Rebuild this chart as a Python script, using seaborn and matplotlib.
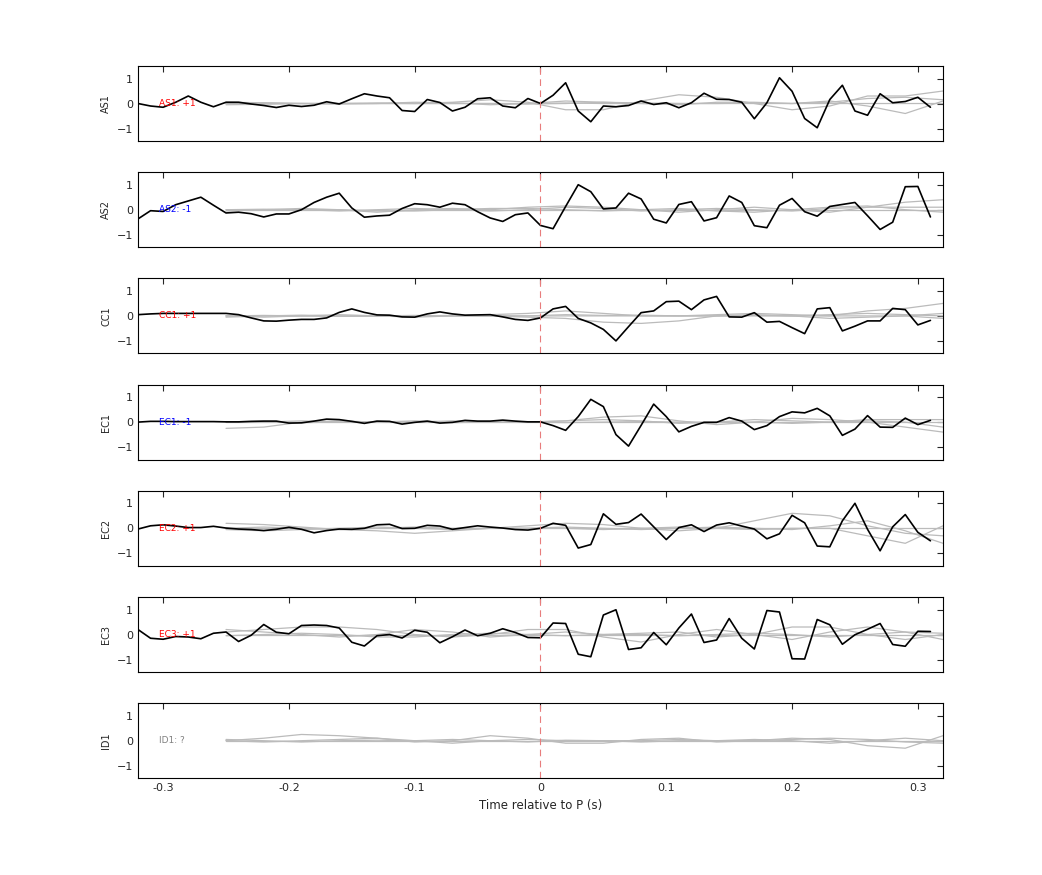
import numpy as np
import matplotlib
matplotlib.use("Agg")
import matplotlib.pyplot as plt
import pandas as pd
import seaborn as sns

# time axis of the black traces (10 ms steps)
t = np.round(np.arange(-0.32, 0.315, 0.01), 2)
# knots of the gray traces
tg = np.round(np.arange(-0.25, 0.321, 0.03), 2)

channels = ['AS1', 'AS2', 'CC1', 'EC1', 'EC2', 'EC3', 'ID1']
labels = ['AS1: +1', 'AS2: -1', 'CC1: +1', 'EC1: -1', 'EC2: +1', 'EC3: +1', 'ID1: ?']
label_colors = ['red', 'blue', 'red', 'blue', 'red', 'red', 'gray']

as1 = [0, -0.1, -0.15, 0.05, 0.3, 0.05, -0.13, 0.05, 0.05, -0.02, -0.08, -0.16, -0.07, -0.12, -0.07, 0.07,
       -0.02, 0.19, 0.39, 0.3, 0.23, -0.28, -0.32, 0.16, 0.04, -0.3, -0.15, 0.19, 0.23, -0.1, -0.17, 0.2,
       0, 0.33, 0.83, -0.3, -0.73, -0.1, -0.13, -0.08, 0.1, -0.04, 0.03, -0.17, 0.03, 0.41, 0.17, 0.16,
       0.05, -0.61, 0.03, 1.03, 0.49, -0.6, -0.97, 0.16, 0.73, -0.3, -0.47, 0.39, 0.03, 0.08, 0.25, -0.15]
as2 = [-0.37, -0.04, -0.07, 0.2, 0.35, 0.5, 0.18, -0.13, -0.1, -0.16, -0.29, -0.17, -0.17, 0, 0.29, 0.5,
       0.66, 0.07, -0.3, -0.25, -0.22, 0.05, 0.24, 0.2, 0.1, 0.26, 0.2, -0.08, -0.33, -0.47, -0.2, -0.13,
       -0.63, -0.76, 0.13, 1.0, 0.72, 0.03, 0.07, 0.66, 0.43, -0.38, -0.53, 0.21, 0.32, -0.45, -0.32, 0.55,
       0.29, -0.64, -0.72, 0.18, 0.45, -0.08, -0.26, 0.13, 0.21, 0.29, -0.24, -0.79, -0.5, 0.92, 0.93, -0.29]
cc1 = [0.05, 0.08, 0.1, 0.1, 0.1, 0.1, 0.1, 0.1, 0.05, -0.08, -0.2, -0.21, -0.17, -0.14, -0.14, -0.08,
       0.14, 0.28, 0.14, 0.04, 0.03, -0.04, -0.05, 0.08, 0.16, 0.08, 0.03, 0.04, 0.05, -0.04, -0.14, -0.18,
       -0.08, 0.28, 0.38, -0.1, -0.28, -0.54, -1.0, -0.43, 0.13, 0.2, 0.57, 0.59, 0.25, 0.64, 0.78, -0.04,
       -0.05, 0.13, -0.25, -0.22, -0.47, -0.71, 0.28, 0.33, -0.6, -0.41, -0.2, -0.2, 0.3, 0.25, -0.36, -0.18]
ec1 = [0, 0.03, 0.03, 0.02, 0.02, 0.02, 0.02, 0.01, 0.01, 0.03, 0.04, 0.04, -0.04, -0.03, 0.04, 0.12,
       0.1, 0.03, -0.05, 0.04, 0.03, -0.08, -0.01, 0.04, -0.04, -0.01, 0.07, 0.04, 0.04, 0.08, 0.04, 0.01,
       0.01, -0.14, -0.33, 0.22, 0.91, 0.62, -0.5, -0.96, -0.13, 0.72, 0.22, -0.39, -0.17, -0.01, -0.01, 0.18,
       0.04, -0.3, -0.14, 0.22, 0.41, 0.37, 0.55, 0.25, -0.53, -0.28, 0.26, -0.2, -0.21, 0.16, -0.1, 0.07]
ec2 = [-0.03, 0.1, 0.14, 0.09, 0.03, 0.03, 0.08, 0.01, -0.03, -0.05, -0.09, -0.04, 0.04, -0.04, -0.18, -0.09,
       -0.03, -0.04, 0, 0.14, 0.16, -0.01, 0, 0.12, 0.09, -0.04, 0.03, 0.1, 0.05, 0.01, -0.05, -0.07,
       0, 0.2, 0.12, -0.79, -0.65, 0.58, 0.16, 0.23, 0.57, 0.06, -0.45, 0.03, 0.14, -0.13, 0.13, 0.22,
       0.09, -0.03, -0.42, -0.22, 0.52, 0.22, -0.71, -0.74, 0.3, 1.0, -0.04, -0.9, 0.06, 0.55, -0.16, -0.5]
ec3 = [0.2, -0.15, -0.19, -0.08, -0.1, -0.17, 0.05, 0.1, -0.28, -0.03, 0.4, 0.09, 0.03, 0.36, 0.38, 0.36,
       0.26, -0.31, -0.46, -0.05, 0, -0.14, 0.17, 0.09, -0.33, -0.09, 0.18, -0.05, 0.05, 0.23, 0.08, -0.12,
       -0.13, 0.46, 0.44, -0.79, -0.89, 0.78, 0.99, -0.6, -0.53, 0.08, -0.41, 0.26, 0.82, -0.32, -0.22, 0.64,
       -0.15, -0.58, 0.96, 0.9, -0.97, -0.98, 0.6, 0.39, -0.39, -0.01, 0.21, 0.44, -0.4, -0.47, 0.13, 0.12]
black = [as1, as2, cc1, ec1, ec2, ec3, None]

# gray traces, values at the tg knots
gray = {
    'AS1': [[0, 0, 0, 0, 0, 0, 0.05, 0.15, 0.05, -0.25, -0.25, 0.1, 0.35, 0.25, 0, -0.25, -0.1, 0.3, 0.3, 0.5],
            [0, 0.02, 0, -0.02, 0, 0.05, 0.03, -0.05, 0, 0.1, 0.05, 0, -0.05, 0.05, 0.05, 0, 0.1, -0.1, -0.4, 0.1],
            [0.05, 0.03, 0, 0, 0.02, 0, 0, 0, 0, 0.02, 0, 0, 0, 0, 0, 0, 0.05, 0.2, 0.25, 0.15],
            [-0.05, -0.03, 0, 0, 0, 0, 0, 0, -0.02, 0, 0.05, 0.02, 0, 0, 0.02, 0, 0, 0, 0, 0]],
    'AS2': [[0, 0, 0.05, 0, -0.1, 0, 0.05, 0, 0.1, 0.15, 0.1, 0, -0.1, 0, 0.1, 0, -0.1, 0.1, 0.3, 0.4],
            [0, 0.02, 0, -0.05, 0, 0.05, 0, -0.05, 0, 0.1, 0.05, -0.05, 0, 0.05, 0, -0.05, 0.05, 0.1, 0.1, 0.1],
            [-0.05, 0, 0, 0, -0.05, -0.05, 0, 0.05, 0.05, 0, -0.05, 0, 0.05, -0.05, -0.1, 0, 0.1, 0.15, 0, -0.1],
            [0, 0, 0, 0, 0, 0, 0, 0, 0, 0, 0, 0, 0, 0, 0, 0, 0, 0, 0, 0]],
    'CC1': [[0, -0.05, 0, 0.05, 0, -0.05, 0, 0.05, 0.1, 0.2, 0.1, 0, 0, 0.05, 0.1, 0.05, 0, 0.2, 0.3, 0.5],
            [0, 0.02, 0, -0.02, 0, 0.02, 0, 0, -0.05, -0.1, -0.25, -0.3, -0.2, 0, 0.05, 0, -0.1, -0.05, 0, 0.1],
            [-0.05, 0, 0.03, 0, -0.02, 0, 0.02, 0, 0, 0.05, 0.02, 0.03, 0, 0, 0.02, 0, 0.05, 0.1, 0.05, 0],
            [0, 0, 0, 0, 0, 0, 0, 0, 0, 0, 0, 0, 0, 0, 0, 0, 0, 0, 0, -0.1]],
    'EC1': [[-0.25, -0.2, 0, 0.05, 0, 0, 0.05, 0, 0, 0.05, 0.2, 0.25, 0.05, -0.1, 0, 0.15, 0.1, 0, -0.2, -0.4],
            [0, 0, 0.05, 0, 0, 0.05, 0, 0, 0, 0.05, 0.1, 0.05, -0.05, 0, 0.1, 0.05, 0, 0.1, 0.1, 0.1],
            [0.02, 0, -0.02, 0, 0.02, 0, -0.02, 0, 0, -0.02, 0, 0.02, 0, 0, 0, -0.05, 0, 0.05, 0, -0.2],
            [0, 0, 0, 0, 0, 0, 0, 0, 0, 0, 0, 0, 0, 0, 0, 0, 0, 0, 0, 0]],
    'EC2': [[0.2, 0.15, 0.05, -0.05, -0.1, -0.2, -0.1, 0, 0.1, 0.2, 0.15, 0, -0.1, 0, 0.3, 0.6, 0.5, 0.1, -0.2, -0.3],
            [0, 0.05, 0, -0.05, 0, 0.05, 0, 0, 0, 0.05, 0, -0.05, 0, 0.05, 0, -0.05, 0.1, 0.3, -0.1, -0.6],
            [-0.05, -0.1, -0.05, 0, 0.05, 0, -0.05, 0, 0, 0, -0.05, 0, 0.05, 0, -0.05, 0, 0, -0.3, -0.6, 0.1],
            [0, 0, 0, 0, 0, 0, 0, 0, 0, 0, 0, 0, 0, 0, 0, 0, 0, 0, 0, 0]],
    'EC3': [[0.1, 0.2, 0.3, 0.3, 0.2, 0, -0.1, 0, 0.2, 0.2, -0.1, -0.3, 0, 0.2, 0, -0.2, 0.1, 0.3, 0.1, -0.2],
            [0.2, 0.1, 0, -0.1, 0, 0.2, 0.1, -0.1, 0, 0.1, 0, 0.05, 0.1, -0.1, 0, 0.3, 0.3, 0, -0.2, 0],
            [-0.05, 0, 0.05, 0, -0.1, -0.1, 0, 0.05, 0, -0.05, 0, 0, -0.05, 0, 0.05, 0, -0.1, 0, 0.1, 0.05],
            [0, 0, 0, 0, 0, 0, 0, 0, 0, 0, 0, 0, 0, 0, 0, 0, 0, 0, 0, 0]],
    'ID1': [[0, 0.1, 0.25, 0.2, 0.1, -0.05, 0, 0.2, 0.1, -0.1, -0.1, 0.05, 0.1, -0.05, 0, 0.1, 0.05, -0.2, -0.3, 0.2],
            [0, -0.05, 0, 0.05, 0.1, 0, -0.1, 0, 0.05, 0, 0, -0.05, 0, 0, 0.05, 0, -0.1, 0, 0.1, 0],
            [0.05, 0, -0.05, 0, 0.02, 0, 0.05, 0, -0.05, 0.02, 0, 0, 0.05, 0, 0, 0.05, 0.1, 0.05, -0.05, -0.1],
            [0, 0, 0, 0, 0, 0, 0, 0, 0, 0, 0, 0, 0, 0, 0, 0, 0, 0, 0, 0]],
}

sns.set_style('white')
plt.rcParams['font.family'] = ['DejaVu Sans']
fig = plt.figure(figsize=(10.42, 8.75), dpi=100)

for k, ch in enumerate(channels):
    bottom = 1 - (141 + 106.2 * k) / 875
    ax = fig.add_axes([0.1324, bottom, 0.7726, 0.0857])
    for g in gray[ch]:
        sns.lineplot(x=tg, y=g, ax=ax, color='#bbbbbb', linewidth=0.9, estimator=None)
    if black[k] is not None:
        sns.lineplot(x=t, y=black[k], ax=ax, color='black', linewidth=1.2, estimator=None)
    ax.axvline(0, color='#e87c7c', linestyle=(0, (6, 4)), linewidth=0.8)
    ax.text(-0.303, 0, labels[k], color=label_colors[k], fontsize=6.5, va='center', ha='left')
    ax.set_xlim(-0.32, 0.32)
    ax.set_ylim(-1.5, 1.5)
    ax.set_yticks([-1, 0, 1])
    ax.set_xticks([-0.3, -0.2, -0.1, 0, 0.1, 0.2, 0.3])
    ax.tick_params(direction='in', top=True, right=True, labelsize=8, length=4)
    ax.set_ylabel(ch, fontsize=7)
    for s in ax.spines.values():
        s.set_linewidth(0.8)
        s.set_color('black')
    if k < len(channels) - 1:
        ax.set_xticklabels([])
    else:
        ax.set_xticklabels(['-0.3', '-0.2', '-0.1', '0', '0.1', '0.2', '0.3'])
        ax.set_xlabel('Time relative to P (s)', fontsize=8.5)

fig.savefig('out.png', dpi=100)
